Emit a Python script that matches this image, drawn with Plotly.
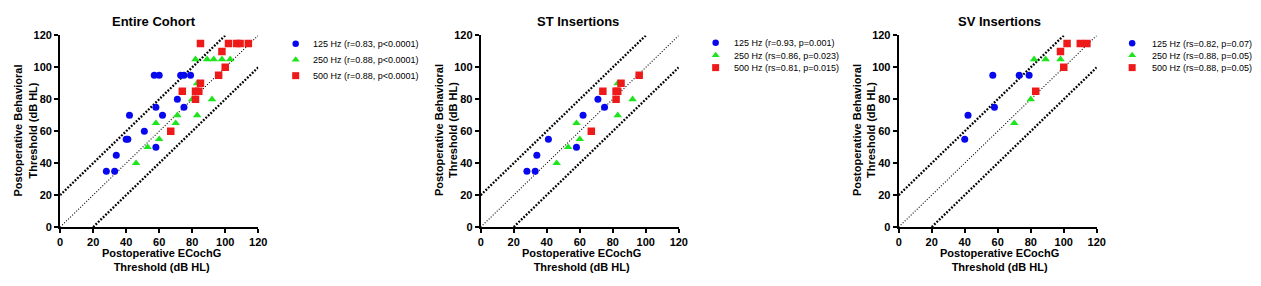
import plotly.graph_objects as go

# ---------------- data ----------------
panel_titles = ["Entire Cohort", "ST Insertions", "SV Insertions"]
series_names = ["125 Hz", "250 Hz", "500 Hz"]
legend_stats = [
    ["(r=0.83, p<0.0001)", "(r=0.88, p<0.0001)", "(r=0.88, p<0.0001)"],
    ["(r=0.93, p=0.001)", "(rs=0.86, p=0.023)", "(rs=0.81, p=0.015)"],
    ["(rs=0.82, p=0.07)", "(rs=0.88, p=0.05)", "(rs=0.88, p=0.05)"],
]

# Entire cohort
all_125_x = [28, 33, 34, 42, 40, 41, 51, 58, 58, 57, 60, 62, 71, 73, 75, 75, 79]
all_125_y = [35, 35, 45, 70, 55, 55, 60, 50, 75, 95, 95, 70, 80, 95, 95, 75, 95]
all_250_x = [46, 53, 60, 58, 70, 71, 80, 83, 92, 83, 82, 89, 93, 98, 103]
all_250_y = [40, 50, 55, 65, 65, 70, 80, 70, 80, 90, 105, 105, 105, 105, 105]
all_500_x = [67, 74, 82, 84, 82, 85, 96, 100, 98, 85, 102, 107, 109, 114]
all_500_y = [60, 85, 85, 85, 80, 90, 95, 100, 110, 115, 115, 115, 115, 115]

# ST insertions
st_125_x = [28, 33, 34, 41, 58, 62, 71, 75]
st_125_y = [35, 35, 45, 55, 50, 70, 80, 75]
st_250_x = [46, 53, 58, 60, 83, 83, 92]
st_250_y = [40, 50, 65, 55, 90, 70, 80]
st_500_x = [67, 74, 82, 83, 82, 85, 96]
st_500_y = [60, 85, 85, 85, 80, 90, 95]

# SV insertions
sv_125_x = [40, 42, 57, 58, 73, 79]
sv_125_y = [55, 70, 95, 75, 95, 95]
sv_250_x = [70, 80, 82, 89, 98]
sv_250_y = [65, 80, 105, 105, 105]
sv_500_x = [83, 100, 98, 102, 110, 114]
sv_500_y = [85, 100, 110, 115, 115, 115]

panels = [
    [(all_125_x, all_125_y), (all_250_x, all_250_y), (all_500_x, all_500_y)],
    [(st_125_x, st_125_y), (st_250_x, st_250_y), (st_500_x, st_500_y)],
    [(sv_125_x, sv_125_y), (sv_250_x, sv_250_y), (sv_500_x, sv_500_y)],
]

# reference lines: identity and +/-20 dB
ref_lines = [
    ([0, 120], [0, 120]),
    ([0, 100], [20, 120]),
    ([20, 120], [0, 100]),
]

tick_vals = [0, 20, 40, 60, 80, 100, 120]
x_title = "Postoperative ECochG<br>Threshold (dB HL)"
y_title = "Postoperative Behavioral<br>Threshold (dB HL)"

# ---------------- styles / layout ----------------
W, H = 1261, 286
colors = ["#0808ee", "#1ee41e", "#ee1a1a"]
symbols = ["circle", "triangle-up", "square"]
sizes = [7, 7.5, 7.5]
FONT = "Liberation Sans, Arial, sans-serif"

plot_left = [57.7, 482.3, 904.3]
plot_w = 200.0
plot_top, plot_bot = 30.7, 230.7
title_cx = [152.5, 581, 1006]
legend_marker_x = [295.5, 719.5, 1140]
legend_text_x = [311, 735.5, 1158]
legend_rows = [[39.3, 56, 72.7], [38.3, 51.3, 64.3], [38.8, 51.5, 64.3]]


def px(v):
    return v / W


def py(v):
    return 1 - v / H


fig = go.Figure()

for p in range(3):
    ax = "" if p == 0 else str(p + 1)
    xref, yref = "x" + ax, "y" + ax
    for li, (lx, ly) in enumerate(ref_lines):
        if li == 0:
            line = dict(color="black", width=1.1, dash="1px,1.8px")
        else:
            line = dict(color="black", width=2.3, dash="1.8px,1.6px")
        fig.add_trace(go.Scatter(x=lx, y=ly, mode="lines", line=line,
                                 xaxis=xref, yaxis=yref, showlegend=False,
                                 hoverinfo="skip"))
    for s in range(3):
        xs, ys = panels[p][s]
        fig.add_trace(go.Scatter(
            x=xs, y=ys, mode="markers", name=series_names[s],
            marker=dict(color=colors[s], symbol=symbols[s], size=sizes[s],
                        line=dict(width=0)),
            xaxis=xref, yaxis=yref, showlegend=False))

    axis_common = dict(range=[0, 120], tickvals=tick_vals, showgrid=False,
                       zeroline=False, showline=True, linecolor="black",
                       linewidth=2, ticks="outside", ticklen=4, tickwidth=1.5,
                       tickcolor="black",
                       tickfont=dict(family=FONT, size=11, color="black", weight="bold"),
                       fixedrange=True)
    fig.update_layout(**{
        "xaxis" + ax: dict(domain=[px(plot_left[p]), px(plot_left[p] + plot_w)],
                           anchor=yref, **axis_common),
        "yaxis" + ax: dict(domain=[py(plot_bot), py(plot_top)], anchor=xref,
                           **axis_common),
    })

# transparent overlay axis in pixel units, used only for legend swatches
fig.update_layout(
    xaxis4=dict(domain=[0, 1], range=[0, W], visible=False, fixedrange=True, anchor="y4"),
    yaxis4=dict(domain=[0, 1], range=[H, 0], visible=False, fixedrange=True, anchor="x4"),
)

annotations = []
for p in range(3):
    cx = plot_left[p] + plot_w / 2
    annotations.append(dict(x=px(title_cx[p]), y=py(15.7), xref="paper", yref="paper",
                            text="<b>" + panel_titles[p] + "</b>", showarrow=False,
                            font=dict(family=FONT, size=13, color="black"),
                            xanchor="center", yanchor="middle"))
    annotations.append(dict(x=px(cx + 2), y=py(265.5), xref="paper", yref="paper",
                            text="<b>" + x_title.replace("<br>", "</b><br><b>") + "</b>",
                            showarrow=False,
                            font=dict(family=FONT, size=11, color="black"),
                            xanchor="center", yanchor="middle"))
    annotations.append(dict(x=px(plot_left[p] - 35.5), y=py(130), xref="paper", yref="paper",
                            text="<b>" + y_title.replace("<br>", "</b><br><b>") + "</b>",
                            showarrow=False, textangle=-90,
                            font=dict(family=FONT, size=11, color="black"),
                            xanchor="center", yanchor="middle"))
    for s in range(3):
        ry = legend_rows[p][s]
        annotations.append(dict(x=px(legend_text_x[p]), y=py(ry + 0.5), xref="paper", yref="paper",
                                text=series_names[s] + " " + legend_stats[p][s],
                                showarrow=False,
                                font=dict(family=FONT, size=9, color="black"),
                                xanchor="left", yanchor="middle"))
        fig.add_trace(go.Scatter(
            x=[legend_marker_x[p]], y=[ry], mode="markers",
            marker=dict(color=colors[s], symbol=symbols[s], size=sizes[s] - 0.5,
                        line=dict(width=0)),
            xaxis="x4", yaxis="y4", showlegend=False, hoverinfo="skip",
            cliponaxis=False))

fig.update_layout(
    width=W, height=H, margin=dict(l=0, r=0, t=0, b=0),
    paper_bgcolor="white", plot_bgcolor="rgba(0,0,0,0)",
    annotations=annotations, showlegend=False,
)

fig.write_html(
    "out.html",
    config={"displayModeBar": False, "responsive": False},
    post_script="document.body.style.margin='0px';document.body.style.overflow='hidden';",
)
